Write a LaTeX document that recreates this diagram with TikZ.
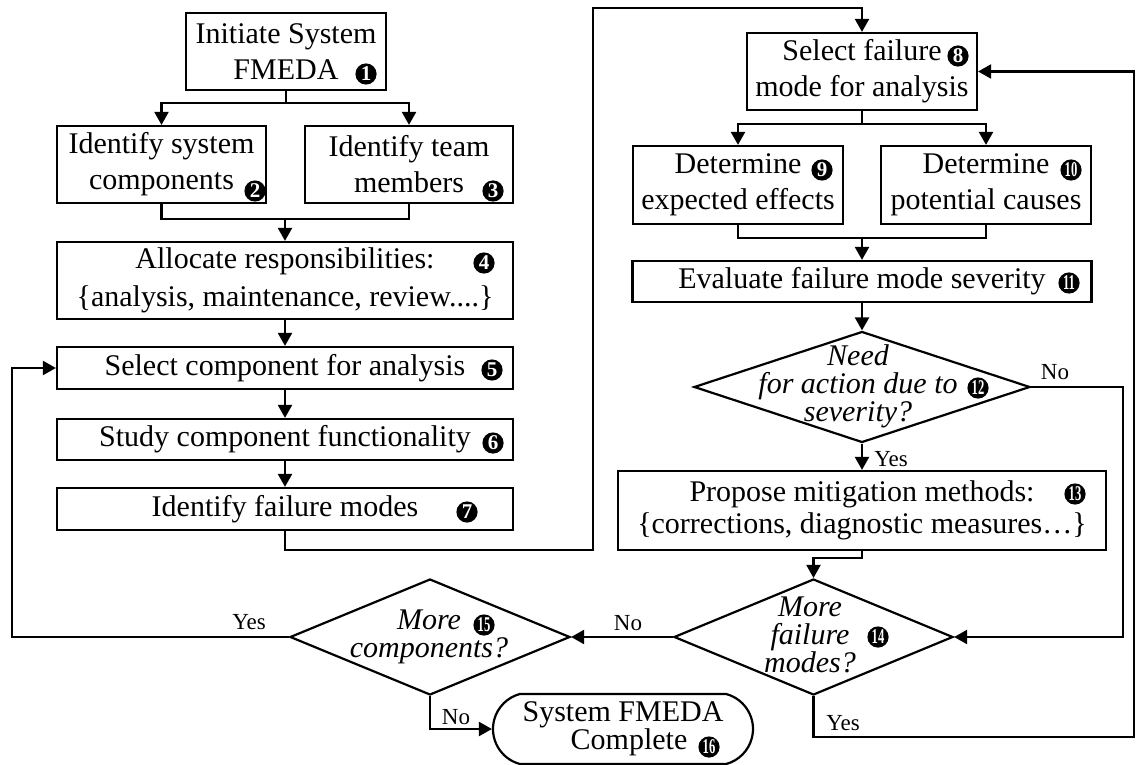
\documentclass[tikz,border=0pt]{standalone}
\usepackage{fontspec}
\setmainfont{Liberation Serif}
\usepackage{graphicx}
\usetikzlibrary{arrows.meta,shapes.geometric,shapes.misc}
% two-digit step numbers are squeezed to fit in the disc
\newcommand\twodig[1]{\scalebox{0.6}[1]{#1}}
\begin{document}
\begin{tikzpicture}[x=0.5pt,y=-0.5pt,
  line width=1.1pt,
  box/.style={draw,rectangle,inner sep=0pt,align=center,font=\fontsize{15}{18}\selectfont},
  decision/.style={draw,diamond,inner sep=0pt},
  ask/.style={align=center,inner sep=0pt,font=\fontsize{15}{14}\selectfont\itshape},
  term/.style={draw,rounded rectangle,rounded rectangle arc length=150,inner sep=0pt,align=center,font=\fontsize{15}{14}\selectfont},
  cnum/.style={circle,fill=black,text=white,inner sep=0pt,minimum size=10.6pt,font=\fontsize{10.5}{10.5}\selectfont\bfseries},
  answer/.style={inner sep=0pt,font=\fontsize{11.5}{12}\selectfont},
  arr/.style={-{Triangle[length=6.5pt,width=7pt]}}
]
\useasboundingbox (0,0) rectangle (1136,765);

% ---- left column: system level steps
\node[box,minimum width=100pt,minimum height=38.5pt] (b1) at (286,51.5) {Initiate System\\FMEDA};
\node[box,minimum width=104.5pt,minimum height=38.5pt] (b2) at (161.5,164.5) {Identify system\\components};
\node[box,minimum width=104pt,minimum height=38.5pt] (b3) at (409,164.5) {Identify team\\members};
\node[box,minimum width=228pt,minimum height=38.5pt,font=\fontsize{15}{19}\selectfont] (b4) at (285,280.5) {Allocate responsibilities:\\\{analysis, maintenance, review....\}};
\node[box,minimum width=228pt,minimum height=21pt] (b5) at (285,368) {Select component for analysis};
\node[box,minimum width=228pt,minimum height=20.5pt] (b6) at (285,439.5) {Study component functionality};
\node[box,minimum width=228pt,minimum height=21pt] (b7) at (285,509) {Identify failure modes};

% ---- right column: failure mode level steps
\node[box,minimum width=115pt,minimum height=38.5pt] (b8) at (862,71.5) {Select failure\\mode for analysis};
\node[box,minimum width=105pt,minimum height=39pt] (b9) at (738,185) {Determine\\expected effects};
\node[box,minimum width=105pt,minimum height=39pt] (b10) at (986,185) {Determine\\potential causes};
\node[box,minimum width=229.5pt,minimum height=20.5pt] (b11) at (862,281.5) {Evaluate failure mode severity};
\node[decision,minimum width=168pt,minimum height=55.5pt] (d12) at (862,387) {};
\node[ask] (q12) at (858,386) {Need\\for action due to\\severity?};
\node[box,minimum width=244pt,minimum height=39.5pt,font=\fontsize{15}{16}\selectfont] (b13) at (862,510.5) {Propose mitigation methods:\\\{corrections, diagnostic measures…\}};
\node[decision,minimum width=139.5pt,minimum height=58pt] (d14) at (813.5,637) {};
\node[ask] (q14) at (810,635) {More\\failure\\modes?};
\node[decision,minimum width=140pt,minimum height=58pt] (d15) at (430,637) {};
\node[ask] (q15) at (429,637) {More\\components?};
\node[term,minimum width=130pt,minimum height=35pt] (t16) at (623,729) {System FMEDA\\\hspace*{6pt}Complete};

% ---- step numbers
\node[cnum] (n1) at (366,74) {1};
\node[cnum] (n2) at (255,191) {2};
\node[cnum] (n3) at (493,191) {3};
\node[cnum] (n4) at (484,263) {4};
\node[cnum] (n5) at (492,370) {5};
\node[cnum] (n6) at (493,443) {6};
\node[cnum] (n7) at (467,512) {7};
\node[cnum] (n8) at (958,56) {8};
\node[cnum] (n9) at (822,170) {9};
\node[cnum] (n10) at (1071,170) {\twodig{10}};
\node[cnum] (n11) at (1069,283) {\twodig{11}};
\node[cnum] (n12) at (978,388) {\twodig{12}};
\node[cnum] (n13) at (1075,494) {\twodig{13}};
\node[cnum] (n14) at (878,637) {\twodig{14}};
\node[cnum] (n15) at (484,625) {\twodig{15}};
\node[cnum] (n16) at (709,747) {\twodig{16}};

% ---- connectors, left column
\coordinate (j1) at (286,103);
\draw (b1.south) -- (j1);
\draw[arr] (j1) -| (b2.north);
\draw[arr] (j1) -| (b3.north);
\coordinate (j2) at (285,219);
\draw (b2.south) |- (j2);
\draw (b3.south) |- (j2);
\draw[arr] (j2) -- (b4.north);
\draw[arr] (b4) -- (b5);
\draw[arr] (b5) -- (b6);
\draw[arr] (b6) -- (b7);
\coordinate (k1) at (593,550);
\coordinate (k2) at (593,8);
\draw[arr] (b7.south) |- (k1) -- (k2) -| (b8.north);

% ---- connectors, right column
\coordinate (j3) at (862,124);
\draw (b8.south) -- (j3);
\draw[arr] (j3) -| (b9.north);
\draw[arr] (j3) -| (b10.north);
\coordinate (j4) at (862,238);
\draw (b9.south) |- (j4);
\draw (b10.south) |- (j4);
\draw[arr] (j4) -- (b11.north);
\draw[arr] (b11) -- (d12);
\draw[arr] (d12.south) -- (b13.north);
\node[answer] (y12) at (891,459) {Yes};
\coordinate (k3) at (1123,387);
\draw[arr] (d12.east) -- (k3) |- (d14.east);
\node[answer] (x12) at (1055,372) {No};
\coordinate (j5) at (862,558);
\draw[arr] (b13.south) -- (j5) -| (d14.north);
\draw[arr] (d14.west) -- (d15.east);
\node[answer] (x14) at (628,623) {No};
\coordinate (k5) at (1134,737);
\draw[arr] (d14.south) |- (k5) |- (b8.east);
\node[answer] (y14) at (843,723) {Yes};

% ---- loop back and finish
\coordinate (k4) at (12,637);
\draw[arr] (d15.west) -- (k4) |- (b5.west);
\node[answer] (y15) at (249,622) {Yes};
\draw[arr] (d15.south) |- (t16.west);
\node[answer] (x15) at (456,717) {No};
\end{tikzpicture}
\end{document}
